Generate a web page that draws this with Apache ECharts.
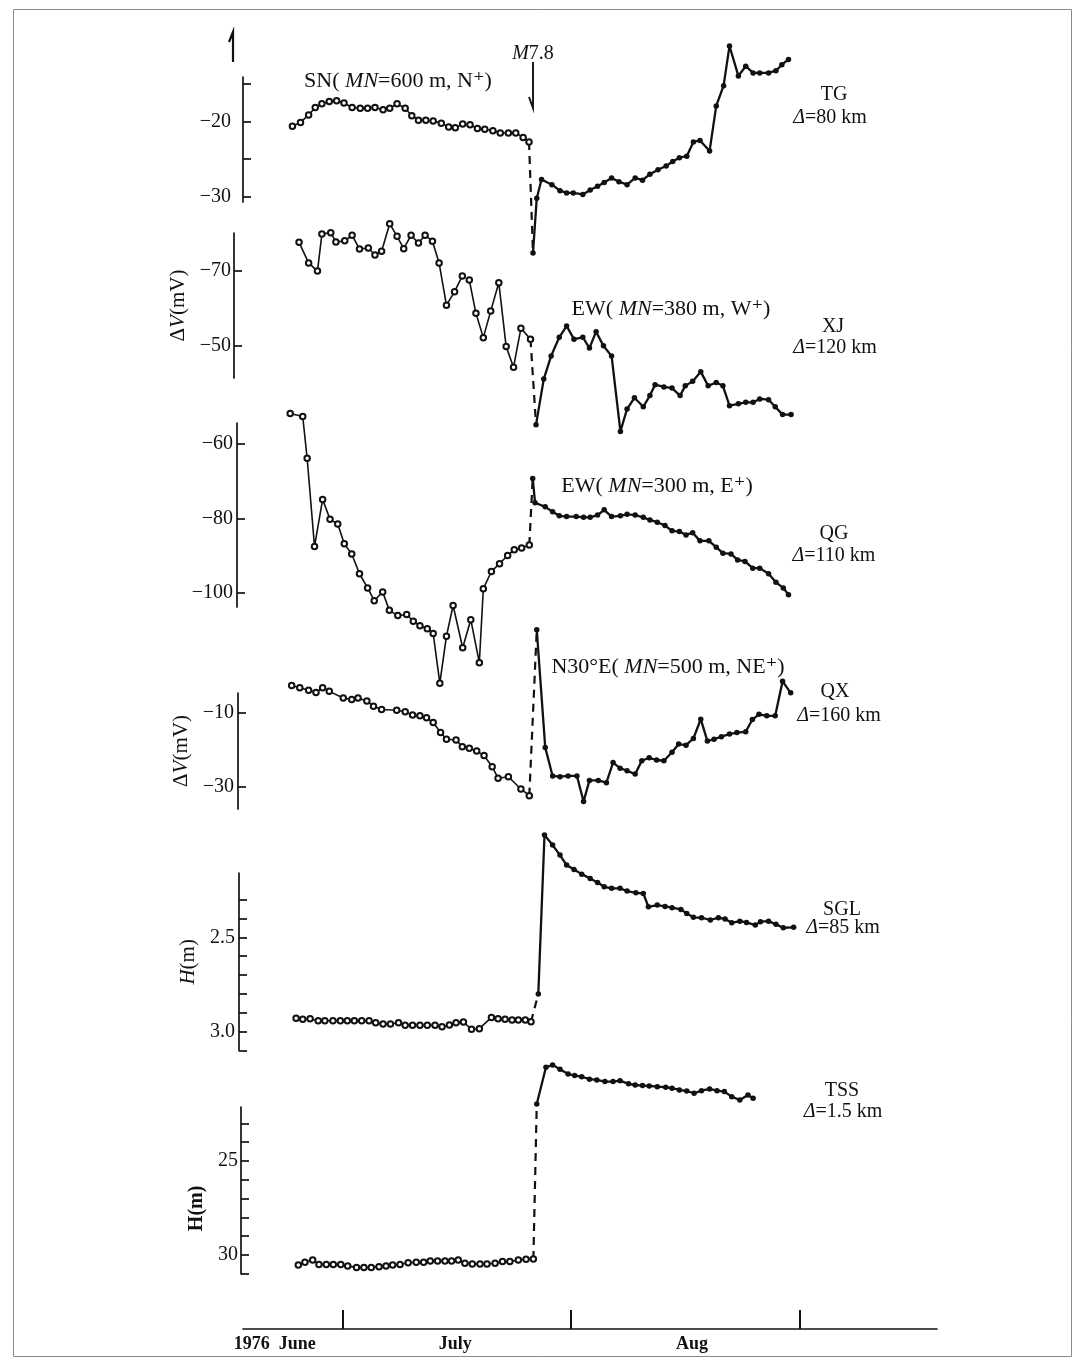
<!DOCTYPE html>
<html>
<head>
<meta charset="utf-8">
<title>Geoelectric and water-level changes around the 1976 M7.8 earthquake</title>
<script src="https://cdn.jsdelivr.net/npm/echarts@6.0.0/dist/echarts.min.js"></script>
<style>
  html, body { margin: 0; padding: 0; background: #fff; }
  #chart { width: 1085px; height: 1363px; }
</style>
</head>
<body>
<div id="chart"></div>
<script>
// Days are counted from 1 July 1976 (day 0); readings are [day, value].

// TG, SN line (mV)
const TG_before = [[-6.8,-20.6],[-5.7,-20.1],[-4.6,-19.1],[-3.7,-18.1],[-2.8,-17.6],[-1.8,-17.3],[-0.8,-17.2],[0.2,-17.5],[1.3,-18.1],[2.4,-18.2],[3.4,-18.2],[4.4,-18.1],[5.5,-18.4],[6.4,-18.2],[7.4,-17.6],[8.5,-18.2],[9.4,-19.2],[10.3,-19.8],[11.3,-19.8],[12.3,-19.9],[13.4,-20.2],[14.4,-20.7],[15.3,-20.8],[16.3,-20.3],[17.3,-20.4],[18.3,-20.9],[19.3,-21.0],[20.4,-21.2],[21.4,-21.5],[22.5,-21.5],[23.5,-21.5],[24.5,-22.1],[25.3,-22.7]];
const TG_after = [[25.84,-37.5],[26.35,-30.2],[27.0,-27.7],[28.4,-28.4],[29.5,-29.2],[30.4,-29.5],[31.3,-29.5],[32.6,-29.7],[33.6,-29.1],[34.6,-28.6],[35.5,-28.1],[36.5,-27.5],[37.5,-28.0],[38.6,-28.4],[39.7,-27.5],[40.7,-27.8],[41.7,-27.0],[42.8,-26.4],[43.9,-25.9],[44.8,-25.3],[45.7,-24.8],[46.7,-24.6],[47.6,-22.7],[48.5,-22.5],[49.8,-23.9],[50.7,-17.9],[51.7,-15.2],[52.5,-9.9],[53.7,-13.9],[54.7,-12.6],[55.7,-13.5],[56.6,-13.5],[57.8,-13.5],[58.8,-13.2],[59.6,-12.4],[60.5,-11.7]];
const TG_ticks = [-30, -25, -20, -15];
const TG_labels = [-20, -30];

// XJ, EW line (mV)
const XJ_before = [[-5.9,-77.7],[-4.6,-72.2],[-3.4,-70.0],[-2.8,-79.9],[-1.6,-80.3],[-0.9,-77.8],[0.3,-78.1],[1.3,-79.6],[2.3,-75.9],[3.5,-76.2],[4.4,-74.3],[5.3,-75.3],[6.4,-82.7],[7.4,-79.3],[8.3,-76.0],[9.3,-79.6],[10.3,-77.5],[11.2,-79.6],[12.2,-78.0],[13.1,-72.2],[14.1,-60.9],[15.2,-64.5],[16.25,-68.7],[16.7,'-'],[17.2,-67.6],[18.1,-58.7],[19.1,-52.2],[20.1,-59.3],[21.2,-66.9],[22.2,-49.8],[23.2,-44.3],[24.2,-54.7],[25.5,-51.8]];
const XJ_after = [[26.25,-28.9],[27.3,-41.1],[28.3,-47.3],[29.4,-52.3],[30.4,-55.3],[31.4,-51.8],[32.6,-52.3],[33.5,-49.4],[34.4,-53.8],[35.4,-50.0],[36.5,-47.3],[37.7,-27.1],[38.6,-33.1],[39.6,-36.1],[40.8,-33.7],[41.7,-36.7],[42.4,-39.6],[43.6,-39.0],[44.7,-38.7],[45.8,-36.7],[46.5,-39.3],[47.5,-40.5],[48.6,-43.1],[49.6,-39.3],[50.7,-40.2],[51.6,-39.3],[52.5,-34.0],[53.7,-34.5],[54.7,-34.9],[55.7,-34.9],[56.6,-35.8],[57.8,-35.6],[58.7,-33.7],[59.7,-31.6],[60.85,-31.6]];
const XJ_ticks = [-70, -50];
const XJ_labels = [-70, -50];

// QG, EW line (mV)
const QG_before = [[-7.1,-51.9],[-5.4,-52.7],[-4.8,-63.9],[-3.8,-87.5],[-2.7,-74.9],[-1.7,-80.2],[-0.65,-81.5],[0.24,-86.8],[1.25,-89.5],[2.3,-94.8],[3.4,-98.6],[4.3,-102.0],[5.45,-99.7],[6.35,-104.6],[7.5,-106.0],[8.7,-105.7],[9.6,-107.5],[10.5,-108.7],[11.5,-109.5],[12.3,-110.8],[13.2,-124.1],[14.1,-111.5],[15.0,-103.3],[16.3,-114.6],[17.4,-107.1],[18.56,-118.6],[19.1,-98.8],[20.2,-94.2],[21.3,-92.1],[22.4,-89.9],[23.3,-88.4],[24.3,-87.9],[25.34,-87.1]];
const QG_after = [[25.8,-69.3],[26.12,-75.8],[27.5,-76.9],[28.5,-78.2],[29.4,-79.3],[30.4,-79.5],[31.7,-79.5],[32.7,-79.7],[33.6,-79.7],[34.6,-79.1],[35.5,-77.7],[36.5,-79.5],[37.7,-79.3],[38.6,-78.9],[39.7,-79.1],[40.8,-79.7],[41.7,-80.4],[42.7,-81.0],[43.75,-81.9],[44.7,-83.3],[45.7,-83.5],[46.6,-84.4],[47.5,-83.8],[48.5,-86.0],[49.7,-86.0],[50.7,-87.7],[51.6,-89.3],[52.7,-89.5],[53.6,-91.1],[54.6,-91.5],[55.65,-93.3],[56.6,-93.3],[57.8,-94.8],[58.8,-97.1],[59.8,-98.6],[60.5,-100.4]];
const QG_ticks = [-60, -80, -100];
const QG_labels = [-60, -80, -100];

// QX, N30°E line (mV)
const QX_before = [[-6.9,-2.6],[-5.8,-3.2],[-4.6,-3.9],[-3.6,-4.5],[-2.7,-3.2],[-1.8,-4.2],[0.1,-6.0],[1.25,-6.4],[2.1,-6.0],[3.3,-6.8],[4.2,-8.2],[5.3,-9.1],[7.35,-9.3],[8.5,-9.7],[9.5,-10.6],[10.5,-10.8],[11.4,-11.3],[12.3,-12.6],[13.3,-15.3],[14.1,-17.1],[15.4,-17.3],[16.25,-19.1],[17.2,-19.5],[18.2,-20.3],[19.2,-21.5],[20.3,-24.5],[21.1,-27.6],[22.5,-27.2],[24.2,-30.5],[25.34,-32.3]];
const QX_after = [[26.35,12.4],[27.5,-19.3],[28.5,-27.0],[29.5,-27.2],[30.6,-27.0],[31.8,-27.0],[32.7,-33.9],[33.5,-28.2],[34.7,-28.2],[35.8,-28.8],[36.7,-23.4],[37.65,-24.9],[38.6,-25.6],[39.7,-26.5],[40.6,-22.9],[41.6,-22.1],[42.6,-22.7],[43.6,-22.9],[44.7,-20.6],[45.6,-18.4],[46.6,-18.7],[47.6,-16.9],[48.6,-11.7],[49.5,-17.6],[50.4,-17.1],[51.4,-16.4],[52.5,-15.7],[53.5,-15.3],[54.7,-15.1],[55.6,-11.8],[56.5,-10.4],[57.55,-10.8],[58.7,-10.8],[59.7,-1.5],[60.8,-4.6]];
const QX_ticks = [-10, -30];
const QX_labels = [-10, -30];

// SGL well, water level below surface (m)
const SGL_before = [[-6.3,2.929],[-5.4,2.934],[-4.4,2.931],[-3.3,2.942],[-2.4,2.942],[-1.3,2.942],[-0.3,2.942],[0.65,2.942],[1.6,2.942],[2.6,2.942],[3.6,2.942],[4.5,2.952],[5.5,2.959],[6.5,2.959],[7.6,2.952],[8.5,2.966],[9.5,2.966],[10.5,2.966],[11.5,2.966],[12.55,2.966],[13.5,2.973],[14.5,2.964],[15.4,2.952],[16.4,2.949],[17.5,2.987],[18.56,2.984],[20.2,2.924],[21.1,2.931],[22.05,2.934],[23.0,2.938],[23.85,2.938],[24.8,2.938],[25.57,2.947]];
const SGL_after = [[26.56,2.800],[27.4,1.958],[28.5,2.011],[29.5,2.064],[30.4,2.117],[31.4,2.140],[32.45,2.165],[33.6,2.188],[34.6,2.209],[35.5,2.232],[36.5,2.240],[37.65,2.240],[38.6,2.255],[39.8,2.264],[40.8,2.267],[41.5,2.338],[42.7,2.329],[43.75,2.336],[44.7,2.343],[45.9,2.352],[46.7,2.373],[47.6,2.394],[48.7,2.396],[49.9,2.408],[51.0,2.396],[51.9,2.403],[52.8,2.423],[53.9,2.414],[54.8,2.421],[56.0,2.435],[56.7,2.417],[57.8,2.414],[58.8,2.431],[59.8,2.449],[61.2,2.447]];
const SGL_ticks = [2.3, 2.4, 2.5, 2.6, 2.7, 2.8, 2.9, 3.0, 3.1];
const SGL_labels = [2.5, 3.0];

// TSS well, water level below surface (m)
const TSS_before = [[-6.0,30.53],[-5.1,30.39],[-4.05,30.27],[-3.2,30.50],[-2.2,30.50],[-1.25,30.50],[-0.24,30.50],[0.7,30.59],[1.9,30.66],[2.9,30.67],[3.9,30.66],[4.95,30.62],[5.9,30.59],[6.8,30.53],[7.8,30.50],[8.9,30.41],[10.0,30.39],[11.0,30.39],[11.9,30.32],[12.9,30.32],[13.9,30.32],[14.8,30.32],[15.7,30.27],[16.6,30.44],[17.6,30.48],[18.65,30.48],[19.6,30.48],[20.7,30.44],[21.7,30.35],[22.7,30.35],[23.85,30.27],[24.9,30.23],[25.89,30.21]];
const TSS_after = [[26.35,21.97],[27.6,20.02],[28.5,19.89],[29.5,20.12],[30.6,20.37],[31.5,20.46],[32.45,20.52],[33.5,20.65],[34.5,20.69],[35.6,20.78],[36.7,20.78],[37.65,20.73],[38.8,20.90],[39.7,20.96],[40.7,20.99],[41.6,21.01],[42.7,21.05],[43.85,21.08],[44.7,21.13],[45.7,21.22],[46.7,21.28],[47.7,21.40],[48.7,21.26],[49.8,21.17],[50.8,21.26],[51.8,21.31],[52.8,21.58],[53.9,21.76],[55.0,21.49],[55.7,21.66]];
const TSS_ticks = [23, 24, 25, 26, 27, 28, 29, 30, 31];
const TSS_labels = [25, 30];

// Time axis: month boundaries and month names
const monthTicks = [0, 31, 62];
const monthLabelDays = [-9.2, 15.3, 47.4];
const monthLabels = ['1976  June', 'July', 'Aug'];

// ---------------------------------------------------------------
const SERIF = '"Liberation Serif", "DejaVu Serif", "Times New Roman", serif';
const INK = '#111';
const PX_PER_DAY = 7.371;   // horizontal scale shared by all panels
const X_RIGHT = 937;        // right end of the time axis (px)
const DAY_MAX = 80.65;      // day at the right end of the time axis
const dayMinFor = left => DAY_MAX - (X_RIGHT - left) / PX_PER_DAY;

// One panel per station; each has its own vertical scale.
const panels = [
  { before: TG_before,  after: TG_after,  ticks: TG_ticks,  labels: TG_labels,  digits: 0,
    left: 243, top: 77,  height: 125, min: -30.71, max: -14.04, inverse: false, margin: 12 },
  { before: XJ_before,  after: XJ_after,  ticks: XJ_ticks,  labels: XJ_labels,  digits: 0,
    left: 234, top: 233, height: 145, min: -80.2,  max: -41.4,  inverse: true,  margin: 3,
    name: '{u|Δ}{i|V}{u|(mV)}', nameGap: 43 },
  { before: QG_before,  after: QG_after,  ticks: QG_ticks,  labels: QG_labels,  digits: 0,
    left: 237, top: 423, height: 184, min: -103.7, max: -54.45, inverse: false, margin: 4 },
  { before: QX_before,  after: QX_after,  ticks: QX_ticks,  labels: QX_labels,  digits: 0,
    left: 238, top: 693, height: 116, min: -35.9,  max: -4.64,  inverse: false, margin: 4,
    name: '{u|Δ}{i|V}{u|(mV)}', nameGap: 41 },
  { before: SGL_before, after: SGL_after, ticks: SGL_ticks, labels: SGL_labels, digits: 1,
    left: 239, top: 873, height: 177.6, min: 2.159, max: 3.1, inverse: true, margin: 4,
    name: '{i|H}{u|(m)}', nameGap: 30 },
  { before: TSS_before, after: TSS_after, ticks: TSS_ticks, labels: TSS_labels, digits: 0,
    left: 241, top: 1107, height: 166.8, min: 22.13, max: 31, inverse: true, margin: 3,
    name: '{b|H(m)}', nameGap: 20, namePadding: [0, 36, 0, 0] }
];

const grid = [], xAxis = [], yAxis = [], series = [];
const nameRich = {
  u: { fontFamily: SERIF, fontSize: 21, color: INK },
  i: { fontFamily: SERIF, fontSize: 21, fontStyle: 'italic', color: INK },
  b: { fontFamily: SERIF, fontSize: 20, fontWeight: 'bold', color: INK }
};

panels.forEach((p, i) => {
  grid.push({ left: p.left, right: 1085 - X_RIGHT, top: p.top, height: p.height, containLabel: false });
  xAxis.push({ gridIndex: i, type: 'value', min: dayMinFor(p.left), max: DAY_MAX, show: false });
  yAxis.push({
    gridIndex: i, type: 'value', min: p.min, max: p.max, inverse: p.inverse,
    axisLine: { show: true, onZero: false, lineStyle: { color: INK, width: 1.7 } },
    axisTick: { show: true, inside: true, length: 8, customValues: p.ticks,
                lineStyle: { color: INK, width: 1.7 } },
    axisLabel: { customValues: p.labels, margin: p.margin, fontFamily: SERIF, fontSize: 20, color: INK,
                 formatter: v => Number(v).toFixed(p.digits).replace('-', '\u2212') },
    splitLine: { show: false },
    name: p.name || '', nameLocation: 'middle', nameGap: p.nameGap || 0, nameRotate: 90,
    nameTextStyle: { rich: nameRich, padding: p.namePadding || 0 }
  });
  const last = p.before[p.before.length - 1];
  const first = p.after[0];
  series.push({
    type: 'line', xAxisIndex: i, yAxisIndex: i, data: p.before, clip: false,
    symbol: 'emptyCircle', symbolSize: 5.5, showAllSymbol: true,
    lineStyle: { color: INK, width: 1.6 }, itemStyle: { color: INK, borderWidth: 1.2 },
    connectNulls: false, silent: true, z: 3
  });
  series.push({
    type: 'line', xAxisIndex: i, yAxisIndex: i, data: [last, first], clip: false,
    symbol: 'none', lineStyle: { color: INK, width: 2.2, type: [8, 6] }, silent: true, z: 2
  });
  series.push({
    type: 'line', xAxisIndex: i, yAxisIndex: i, data: p.after, clip: false,
    symbol: 'circle', symbolSize: 5.5, showAllSymbol: true,
    lineStyle: { color: INK, width: 2.3 }, itemStyle: { color: INK }, silent: true, z: 3
  });
});

// Shared time axis at the bottom
const T = panels.length;
const timeLeft = 243;
grid.push({ left: timeLeft, right: 1085 - X_RIGHT, top: 1300, height: 29 });
xAxis.push({
  gridIndex: T, type: 'value', min: dayMinFor(timeLeft), max: DAY_MAX, position: 'bottom',
  axisLine: { show: true, onZero: false, lineStyle: { color: INK, width: 1.7 } },
  axisTick: { show: true, inside: true, length: 19, customValues: monthTicks,
              lineStyle: { color: INK, width: 2 } },
  axisLabel: { customValues: monthLabelDays, margin: 6, fontFamily: SERIF, fontSize: 18,
               fontWeight: 'bold', color: INK,
               formatter: v => monthLabels[monthLabelDays.indexOf(v)] || '' },
  splitLine: { show: false }
});
yAxis.push({ gridIndex: T, type: 'value', show: false, min: 0, max: 1 });

// Station annotations
const txt = (text, x, y, size) => ({
  type: 'text', x, y, silent: true,
  style: {
    text, fontFamily: SERIF, fontSize: size, fill: INK, align: 'center', verticalAlign: 'middle',
    rich: {
      i: { fontFamily: SERIF, fontSize: size, fontStyle: 'italic', fill: INK },
      n: { fontFamily: SERIF, fontSize: size, fill: INK }
    }
  }
});

const graphic = [
  { type: 'rect', shape: { x: 13.5, y: 9.5, width: 1058, height: 1347 }, silent: true,
    style: { fill: 'none', stroke: '#8a8a8a', lineWidth: 1 } },
  // direction arrow at the top of the first axis
  { type: 'polyline', silent: true, shape: { points: [[233, 62], [233, 32], [229, 42]] },
    style: { stroke: INK, lineWidth: 2.2, fill: 'none' } },
  // main shock marker
  { type: 'polyline', silent: true, shape: { points: [[533, 62], [533, 108], [529, 97]] },
    style: { stroke: INK, lineWidth: 1.9, fill: 'none' } },
  txt('{i|M}{n|7.8}', 533, 54, 20),
  txt('{n|SN( }{i|MN}{n|=600 m, N⁺)}', 398, 81, 22),
  txt('TG', 834, 95, 20),
  txt('{i|Δ}{n|=80 km}', 830, 118, 20),
  txt('{n|EW( }{i|MN}{n|=380 m, W⁺)}', 671, 309, 22),
  txt('XJ', 833, 327, 20),
  txt('{i|Δ}{n|=120 km}', 835, 348, 20),
  txt('{n|EW( }{i|MN}{n|=300 m, E⁺)}', 657, 486, 22),
  txt('QG', 834, 534, 20),
  txt('{i|Δ}{n|=110 km}', 834, 556, 20),
  txt('{n|N30°E( }{i|MN}{n|=500 m, NE⁺)}', 668, 667, 22),
  txt('QX', 835, 692, 20),
  txt('{i|Δ}{n|=160 km}', 839, 716, 20),
  txt('SGL', 842, 910, 20),
  txt('{i|Δ}{n|=85 km}', 843, 928, 20),
  txt('TSS', 842, 1091, 20),
  txt('{i|Δ}{n|=1.5 km}', 843, 1112, 20)
];

const chart = echarts.init(document.getElementById('chart'), null, { renderer: 'canvas' });
chart.setOption({
  backgroundColor: '#fff',
  animation: false,
  grid, xAxis, yAxis, series, graphic
});
</script>
</body>
</html>
